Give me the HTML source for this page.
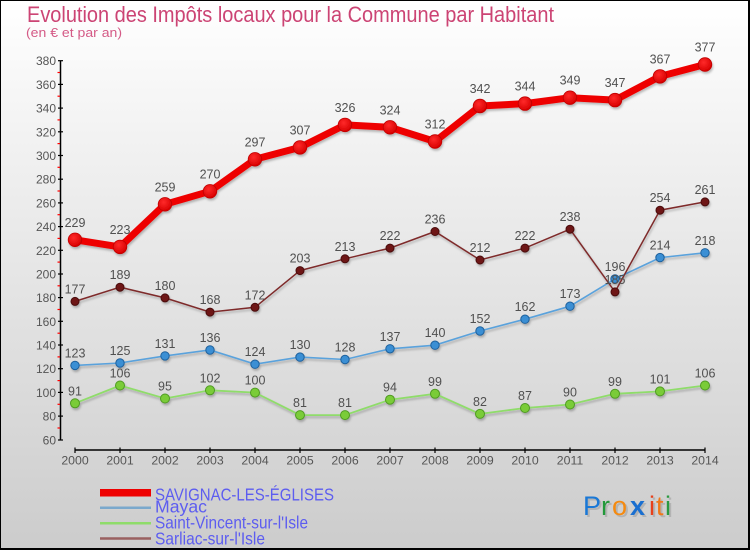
<!DOCTYPE html>
<html><head><meta charset="utf-8">
<style>
html,body{margin:0;padding:0;background:#000;}
#wrap{position:absolute;left:1px;top:1px;width:747px;height:547px;background:linear-gradient(#ffffff 0%,#f2f2f2 25%,#dedede 65%,#cccccc 100%);overflow:hidden;}
svg{position:absolute;left:-1px;top:-1px;}
text{font-family:"Liberation Sans",sans-serif;}
</style></head>
<body>
<div id="wrap">
<svg width="750" height="550" viewBox="0 0 750 550" xmlns="http://www.w3.org/2000/svg">
<defs>
<filter id="sh" x="-10%" y="-10%" width="120%" height="130%">
<feDropShadow dx="1" dy="2" stdDeviation="1" flood-color="#000" flood-opacity="0.25"/>
</filter>
<radialGradient id="rg" cx="40%" cy="35%" r="65%">
<stop offset="0" stop-color="#ff2a2a"/><stop offset="1" stop-color="#d80000"/>
</radialGradient>
</defs>

<!-- Title -->
<text x="27" y="22" font-size="22" fill="#cc4474" textLength="527" lengthAdjust="spacingAndGlyphs">Evolution des Impôts locaux pour la Commune par Habitant</text>
<text x="26" y="37" font-size="12.5" fill="#d45a86" textLength="96" lengthAdjust="spacingAndGlyphs">(en € et par an)</text>

<!-- Y axis -->
<g stroke="#000" stroke-width="1.5">
<line x1="60.5" y1="60.5" x2="60.5" y2="440.5"/>
</g>
<g stroke="#000" stroke-width="1.2">
<line x1="58" y1="60.7" x2="63" y2="60.7"/>
<line x1="58" y1="84.4" x2="63" y2="84.4"/>
<line x1="58" y1="108.1" x2="63" y2="108.1"/>
<line x1="58" y1="131.8" x2="63" y2="131.8"/>
<line x1="58" y1="155.5" x2="63" y2="155.5"/>
<line x1="58" y1="179.2" x2="63" y2="179.2"/>
<line x1="58" y1="202.9" x2="63" y2="202.9"/>
<line x1="58" y1="226.6" x2="63" y2="226.6"/>
<line x1="58" y1="250.3" x2="63" y2="250.3"/>
<line x1="58" y1="274.0" x2="63" y2="274.0"/>
<line x1="58" y1="297.6" x2="63" y2="297.6"/>
<line x1="58" y1="321.3" x2="63" y2="321.3"/>
<line x1="58" y1="345.0" x2="63" y2="345.0"/>
<line x1="58" y1="368.7" x2="63" y2="368.7"/>
<line x1="58" y1="392.4" x2="63" y2="392.4"/>
<line x1="58" y1="416.1" x2="63" y2="416.1"/>
<line x1="58" y1="440" x2="63" y2="440"/>
</g>
<g stroke="#ff0000" stroke-width="1.2">
<line x1="57.5" y1="72.5" x2="60" y2="72.5"/>
<line x1="57.5" y1="96.2" x2="60" y2="96.2"/>
<line x1="57.5" y1="119.9" x2="60" y2="119.9"/>
<line x1="57.5" y1="143.6" x2="60" y2="143.6"/>
<line x1="57.5" y1="167.3" x2="60" y2="167.3"/>
<line x1="57.5" y1="191.0" x2="60" y2="191.0"/>
<line x1="57.5" y1="214.7" x2="60" y2="214.7"/>
<line x1="57.5" y1="238.4" x2="60" y2="238.4"/>
<line x1="57.5" y1="262.1" x2="60" y2="262.1"/>
<line x1="57.5" y1="285.8" x2="60" y2="285.8"/>
<line x1="57.5" y1="309.5" x2="60" y2="309.5"/>
<line x1="57.5" y1="333.2" x2="60" y2="333.2"/>
<line x1="57.5" y1="356.9" x2="60" y2="356.9"/>
<line x1="57.5" y1="380.6" x2="60" y2="380.6"/>
<line x1="57.5" y1="404.3" x2="60" y2="404.3"/>
<line x1="57.5" y1="428.0" x2="60" y2="428.0"/>
</g>
<g font-size="12" fill="#555" text-anchor="end">
<text x="56" y="65.2">380</text>
<text x="56" y="88.9">360</text>
<text x="56" y="112.6">340</text>
<text x="56" y="136.3">320</text>
<text x="56" y="160.0">300</text>
<text x="56" y="183.7">280</text>
<text x="56" y="207.4">260</text>
<text x="56" y="231.1">240</text>
<text x="56" y="254.8">220</text>
<text x="56" y="278.5">200</text>
<text x="56" y="302.1">180</text>
<text x="56" y="325.8">160</text>
<text x="56" y="349.5">140</text>
<text x="56" y="373.2">120</text>
<text x="56" y="396.9">100</text>
<text x="56" y="420.6">80</text>
<text x="56" y="444.5">60</text>
</g>

<!-- X axis -->
<line x1="75" y1="450" x2="705" y2="450" stroke="#000" stroke-width="1.5"/>
<g stroke="#000" stroke-width="1.2">
<line x1="75" y1="447.5" x2="75" y2="453"/>
<line x1="120" y1="447.5" x2="120" y2="453"/>
<line x1="165" y1="447.5" x2="165" y2="453"/>
<line x1="210" y1="447.5" x2="210" y2="453"/>
<line x1="255" y1="447.5" x2="255" y2="453"/>
<line x1="300" y1="447.5" x2="300" y2="453"/>
<line x1="345" y1="447.5" x2="345" y2="453"/>
<line x1="390" y1="447.5" x2="390" y2="453"/>
<line x1="435" y1="447.5" x2="435" y2="453"/>
<line x1="480" y1="447.5" x2="480" y2="453"/>
<line x1="525" y1="447.5" x2="525" y2="453"/>
<line x1="570" y1="447.5" x2="570" y2="453"/>
<line x1="615" y1="447.5" x2="615" y2="453"/>
<line x1="660" y1="447.5" x2="660" y2="453"/>
<line x1="705" y1="447.5" x2="705" y2="453"/>
</g>
<g font-size="12.3" fill="#555" text-anchor="middle">
<text x="75" y="464.7">2000</text>
<text x="120" y="464.7">2001</text>
<text x="165" y="464.7">2002</text>
<text x="210" y="464.7">2003</text>
<text x="255" y="464.7">2004</text>
<text x="300" y="464.7">2005</text>
<text x="345" y="464.7">2006</text>
<text x="390" y="464.7">2007</text>
<text x="435" y="464.7">2008</text>
<text x="480" y="464.7">2009</text>
<text x="525" y="464.7">2010</text>
<text x="570" y="464.7">2011</text>
<text x="615" y="464.7">2012</text>
<text x="660" y="464.7">2013</text>
<text x="705" y="464.7">2014</text>
</g>

<!-- Green: Saint-Vincent-sur-l'Isle -->
<g filter="url(#sh)">
<polyline fill="none" stroke="#8fdc6a" stroke-width="1.8" points="75,403.3 120,385.5 165,398.5 210,390.3 255,392.6 300,415.1 345,415.1 390,399.7 435,393.8 480,413.9 525,408.0 570,404.5 615,393.8 660,391.4 705,385.5"/>
<g fill="#7acc38" stroke="#4f9a22" stroke-width="1">
<circle cx="75" cy="403.3" r="4.5"/><circle cx="120" cy="385.5" r="4.5"/><circle cx="165" cy="398.5" r="4.5"/><circle cx="210" cy="390.3" r="4.5"/><circle cx="255" cy="392.6" r="4.5"/><circle cx="300" cy="415.1" r="4.5"/><circle cx="345" cy="415.1" r="4.5"/><circle cx="390" cy="399.7" r="4.5"/><circle cx="435" cy="393.8" r="4.5"/><circle cx="480" cy="413.9" r="4.5"/><circle cx="525" cy="408.0" r="4.5"/><circle cx="570" cy="404.5" r="4.5"/><circle cx="615" cy="393.8" r="4.5"/><circle cx="660" cy="391.4" r="4.5"/><circle cx="705" cy="385.5" r="4.5"/>
</g>
</g>

<!-- Blue: Mayac -->
<g filter="url(#sh)">
<polyline fill="none" stroke="#5aa2dc" stroke-width="1.6" points="75,365.4 120,363.0 165,355.9 210,350.0 255,364.2 300,357.1 345,359.5 390,348.8 435,345.2 480,331.0 525,319.2 570,306.2 615,278.9 660,257.6 705,252.8"/>
<g fill="#3a8fd4" stroke="#1f609c" stroke-width="1">
<circle cx="75" cy="365.4" r="4.2"/><circle cx="120" cy="363.0" r="4.2"/><circle cx="165" cy="355.9" r="4.2"/><circle cx="210" cy="350.0" r="4.2"/><circle cx="255" cy="364.2" r="4.2"/><circle cx="300" cy="357.1" r="4.2"/><circle cx="345" cy="359.5" r="4.2"/><circle cx="390" cy="348.8" r="4.2"/><circle cx="435" cy="345.2" r="4.2"/><circle cx="480" cy="331.0" r="4.2"/><circle cx="525" cy="319.2" r="4.2"/><circle cx="570" cy="306.2" r="4.2"/><circle cx="615" cy="278.9" r="4.2"/><circle cx="660" cy="257.6" r="4.2"/><circle cx="705" cy="252.8" r="4.2"/>
</g>
</g>

<!-- Brown: Sarliac-sur-l'Isle -->
<g filter="url(#sh)">
<polyline fill="none" stroke="#7e2a2a" stroke-width="1.5" points="75,301.4 120,287.2 165,297.9 210,312.1 255,307.3 300,270.6 345,258.8 390,248.1 435,231.5 480,260.0 525,248.1 570,229.2 615,291.9 660,210.2 705,201.9"/>
<g fill="#6e1414" stroke="#4a0a0a" stroke-width="1">
<circle cx="75" cy="301.4" r="4"/><circle cx="120" cy="287.2" r="4"/><circle cx="165" cy="297.9" r="4"/><circle cx="210" cy="312.1" r="4"/><circle cx="255" cy="307.3" r="4"/><circle cx="300" cy="270.6" r="4"/><circle cx="345" cy="258.8" r="4"/><circle cx="390" cy="248.1" r="4"/><circle cx="435" cy="231.5" r="4"/><circle cx="480" cy="260.0" r="4"/><circle cx="525" cy="248.1" r="4"/><circle cx="570" cy="229.2" r="4"/><circle cx="615" cy="291.9" r="4"/><circle cx="660" cy="210.2" r="4"/><circle cx="705" cy="201.9" r="4"/>
</g>
</g>

<!-- Red: SAVIGNAC-LES-EGLISES -->
<g filter="url(#sh)">
<polyline fill="none" stroke="#ee0000" stroke-width="7" stroke-linejoin="round" points="75,239.8 120,246.9 165,204.3 210,191.3 255,159.3 300,147.4 345,124.9 390,127.3 435,141.5 480,106.0 525,103.6 570,97.7 615,100.1 660,76.4 705,64.5"/>
<g fill="url(#rg)" stroke="#c00000" stroke-width="0.8">
<circle cx="75" cy="239.8" r="6.8"/><circle cx="120" cy="246.9" r="6.8"/><circle cx="165" cy="204.3" r="6.8"/><circle cx="210" cy="191.3" r="6.8"/><circle cx="255" cy="159.3" r="6.8"/><circle cx="300" cy="147.4" r="6.8"/><circle cx="345" cy="124.9" r="6.8"/><circle cx="390" cy="127.3" r="6.8"/><circle cx="435" cy="141.5" r="6.8"/><circle cx="480" cy="106.0" r="6.8"/><circle cx="525" cy="103.6" r="6.8"/><circle cx="570" cy="97.7" r="6.8"/><circle cx="615" cy="100.1" r="6.8"/><circle cx="660" cy="76.4" r="6.8"/><circle cx="705" cy="64.5" r="6.8"/>
</g>
</g>

<!-- Data labels -->
<g font-size="12.5" fill="#505050" text-anchor="middle">
<text x="75" y="226.8">229</text><text x="120" y="233.9">223</text><text x="165" y="191.3">259</text><text x="210" y="178.3">270</text><text x="255" y="146.3">297</text><text x="300" y="134.4">307</text><text x="345" y="111.9">326</text><text x="390" y="114.3">324</text><text x="435" y="128.5">312</text><text x="480" y="93.0">342</text><text x="525" y="90.6">344</text><text x="570" y="84.7">349</text><text x="615" y="87.1">347</text><text x="660" y="63.4">367</text><text x="705" y="51.5">377</text>
<text x="75" y="293.4">177</text><text x="120" y="279.2">189</text><text x="165" y="289.9">180</text><text x="210" y="304.1">168</text><text x="255" y="299.3">172</text><text x="300" y="262.6">203</text><text x="345" y="250.8">213</text><text x="390" y="240.1">222</text><text x="435" y="223.5">236</text><text x="480" y="252.0">212</text><text x="525" y="240.1">222</text><text x="570" y="221.2">238</text><text x="615" y="283.9">185</text><text x="660" y="202.2">254</text><text x="705" y="193.9">261</text>
<text x="75" y="357.4">123</text><text x="120" y="355.0">125</text><text x="165" y="347.9">131</text><text x="210" y="342.0">136</text><text x="255" y="356.2">124</text><text x="300" y="349.1">130</text><text x="345" y="351.5">128</text><text x="390" y="340.8">137</text><text x="435" y="337.2">140</text><text x="480" y="323.0">152</text><text x="525" y="311.2">162</text><text x="570" y="298.2">173</text><text x="615" y="270.9">196</text><text x="660" y="249.6">214</text><text x="705" y="244.8">218</text>
<text x="75" y="395.3">91</text><text x="120" y="377.5">106</text><text x="165" y="390.5">95</text><text x="210" y="382.3">102</text><text x="255" y="384.6">100</text><text x="300" y="407.1">81</text><text x="345" y="407.1">81</text><text x="390" y="391.7">94</text><text x="435" y="385.8">99</text><text x="480" y="405.9">82</text><text x="525" y="400.0">87</text><text x="570" y="396.5">90</text><text x="615" y="385.8">99</text><text x="660" y="383.4">101</text><text x="705" y="377.5">106</text>
</g>

<!-- Legend -->
<rect x="100" y="489" width="51" height="7.5" fill="#ee0000"/>
<line x1="100" y1="507.8" x2="151" y2="507.8" stroke="#7aa8cc" stroke-width="2.5"/>
<line x1="100" y1="523.2" x2="151" y2="523.2" stroke="#8fdc6a" stroke-width="2.5"/>
<line x1="100" y1="538.5" x2="151" y2="538.5" stroke="#9a6060" stroke-width="2.5"/>
<g font-size="17.5" fill="#5d5df0">
<text x="155" y="500.3" textLength="179" lengthAdjust="spacingAndGlyphs">SAVIGNAC-LES-ÉGLISES</text>
<text x="155" y="512.7" textLength="52" lengthAdjust="spacingAndGlyphs">Mayac</text>
<text x="155" y="528.5" textLength="153" lengthAdjust="spacingAndGlyphs">Saint-Vincent-sur-l'Isle</text>
<text x="155" y="544.3" textLength="110" lengthAdjust="spacingAndGlyphs">Sarliac-sur-l'Isle</text>
</g>

<!-- Proxiti logo -->
<g font-size="27" font-family="Liberation Sans, sans-serif">
<g fill="#999" opacity="0.5" transform="translate(2,2)">
<text x="583" y="515">P</text><text x="601" y="515">r</text><text x="612" y="515">o</text><text x="630" y="515" font-weight="bold">x</text><text x="649" y="515">i</text><text x="656" y="515">t</text><text x="665" y="515">i</text>
</g>
<text x="583" y="515" fill="#1a78d6">P</text>
<text x="601" y="515" fill="#22993a">r</text>
<text x="612" y="515" fill="#f58a10">o</text>
<text x="630" y="515" fill="#1a6fd0" font-weight="bold">x</text>
<text x="649" y="515" fill="#e8401a">i</text>
<text x="656" y="515" fill="#f07818">t</text>
<text x="665" y="515" fill="#2a9a40">i</text>
</g>
</svg>
</div>
</body></html>
